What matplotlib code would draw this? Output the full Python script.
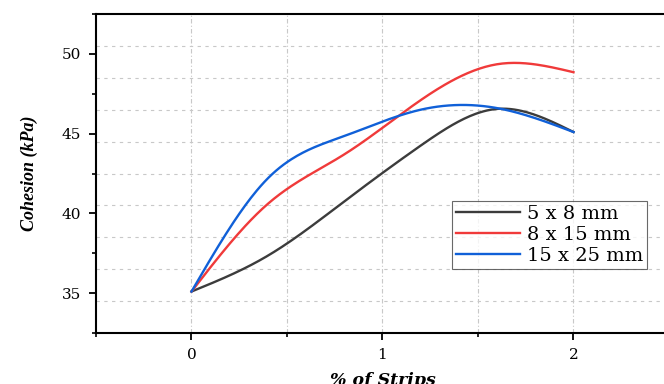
import numpy as np
import matplotlib.pyplot as plt
from matplotlib.ticker import MultipleLocator

# % of strips and cohesion (kPa)
strips = [0, 0.4, 0.8, 1.2, 1.6, 2.0]
c_5x8 = [35.1, 37.35, 40.75, 44.25, 46.55, 45.1]
c_8x15 = [35.1, 40.6, 43.7, 47.1, 49.35, 48.85]
c_15x25 = [35.1, 42.2, 44.85, 46.5, 46.6, 45.1]
labels = ['5 x 8 mm', '8 x 15 mm', '15 x 25 mm']
colors = ['#3c3c3c', '#f03a3a', '#1060d8']


def natural_spline(x, y, n=200):
    # smooth connecting line (natural cubic spline)
    x = np.asarray(x, float)
    y = np.asarray(y, float)
    h = np.diff(x)
    k = len(x)
    A = np.zeros((k, k))
    b = np.zeros(k)
    A[0, 0] = A[-1, -1] = 1
    for i in range(1, k - 1):
        A[i, i - 1] = h[i - 1]
        A[i, i] = 2 * (h[i - 1] + h[i])
        A[i, i + 1] = h[i]
        b[i] = 3 * ((y[i + 1] - y[i]) / h[i] - (y[i] - y[i - 1]) / h[i - 1])
    c = np.linalg.solve(A, b)
    xs = np.linspace(x[0], x[-1], n)
    idx = np.clip(np.searchsorted(x, xs) - 1, 0, k - 2)
    dx = xs - x[idx]
    bb = (y[idx + 1] - y[idx]) / h[idx] - h[idx] * (2 * c[idx] + c[idx + 1]) / 3
    dd = (c[idx + 1] - c[idx]) / (3 * h[idx])
    return xs, y[idx] + bb * dx + c[idx] * dx ** 2 + dd * dx ** 3


plt.rcParams['font.family'] = ['DejaVu Serif']

fig = plt.figure(figsize=(6.64, 3.84), dpi=100)
ax = fig.add_axes([96 / 664, 51 / 384, 573 / 664, 319 / 384])

for yv in np.arange(34.5, 51, 2):
    ax.axhline(yv, color='#c8c8c8', lw=0.8, ls=(0, (3, 4)), zorder=0)
for xv in [0, 0.5, 1, 1.5, 2]:
    ax.axvline(xv, color='#c8c8c8', lw=0.8, ls=(0, (4, 2, 1, 2)), zorder=0)

for ys, lab, col in zip([c_5x8, c_8x15, c_15x25], labels, colors):
    xs, yy = natural_spline(strips, ys)
    ax.plot(xs, yy, color=col, lw=1.7, label=lab)

ax.set_xlim(-0.5, 2.5)
ax.set_ylim(32.5, 52.5)
ax.xaxis.set_major_locator(MultipleLocator(1))
ax.xaxis.set_minor_locator(MultipleLocator(0.5))
ax.yaxis.set_major_locator(MultipleLocator(5))
ax.yaxis.set_minor_locator(MultipleLocator(2.5))
ax.tick_params(which='major', direction='out', length=5, width=1.3, labelsize=11, pad=6)
ax.tick_params(which='minor', direction='out', length=3, width=1.2)
ax.spines['right'].set_visible(False)
for s in ['left', 'bottom', 'top']:
    ax.spines[s].set_linewidth(1.5)

ax.set_ylabel('Cohesion (kPa)', fontsize=13, fontweight='bold', style='italic',
              family='Liberation Serif', labelpad=17)
ax.set_xlabel('% of Strips', fontsize=12.5, fontweight='bold', style='italic', labelpad=7)

leg = ax.legend(loc='upper left', bbox_to_anchor=(356 / 573, 132 / 319), fontsize=14,
                frameon=True, fancybox=False, edgecolor='#444444', handlelength=3.3,
                handletextpad=0.35, borderpad=0.2, labelspacing=0.15, borderaxespad=0)
leg.get_frame().set_linewidth(0.8)

fig.savefig('out.png', dpi=100)
